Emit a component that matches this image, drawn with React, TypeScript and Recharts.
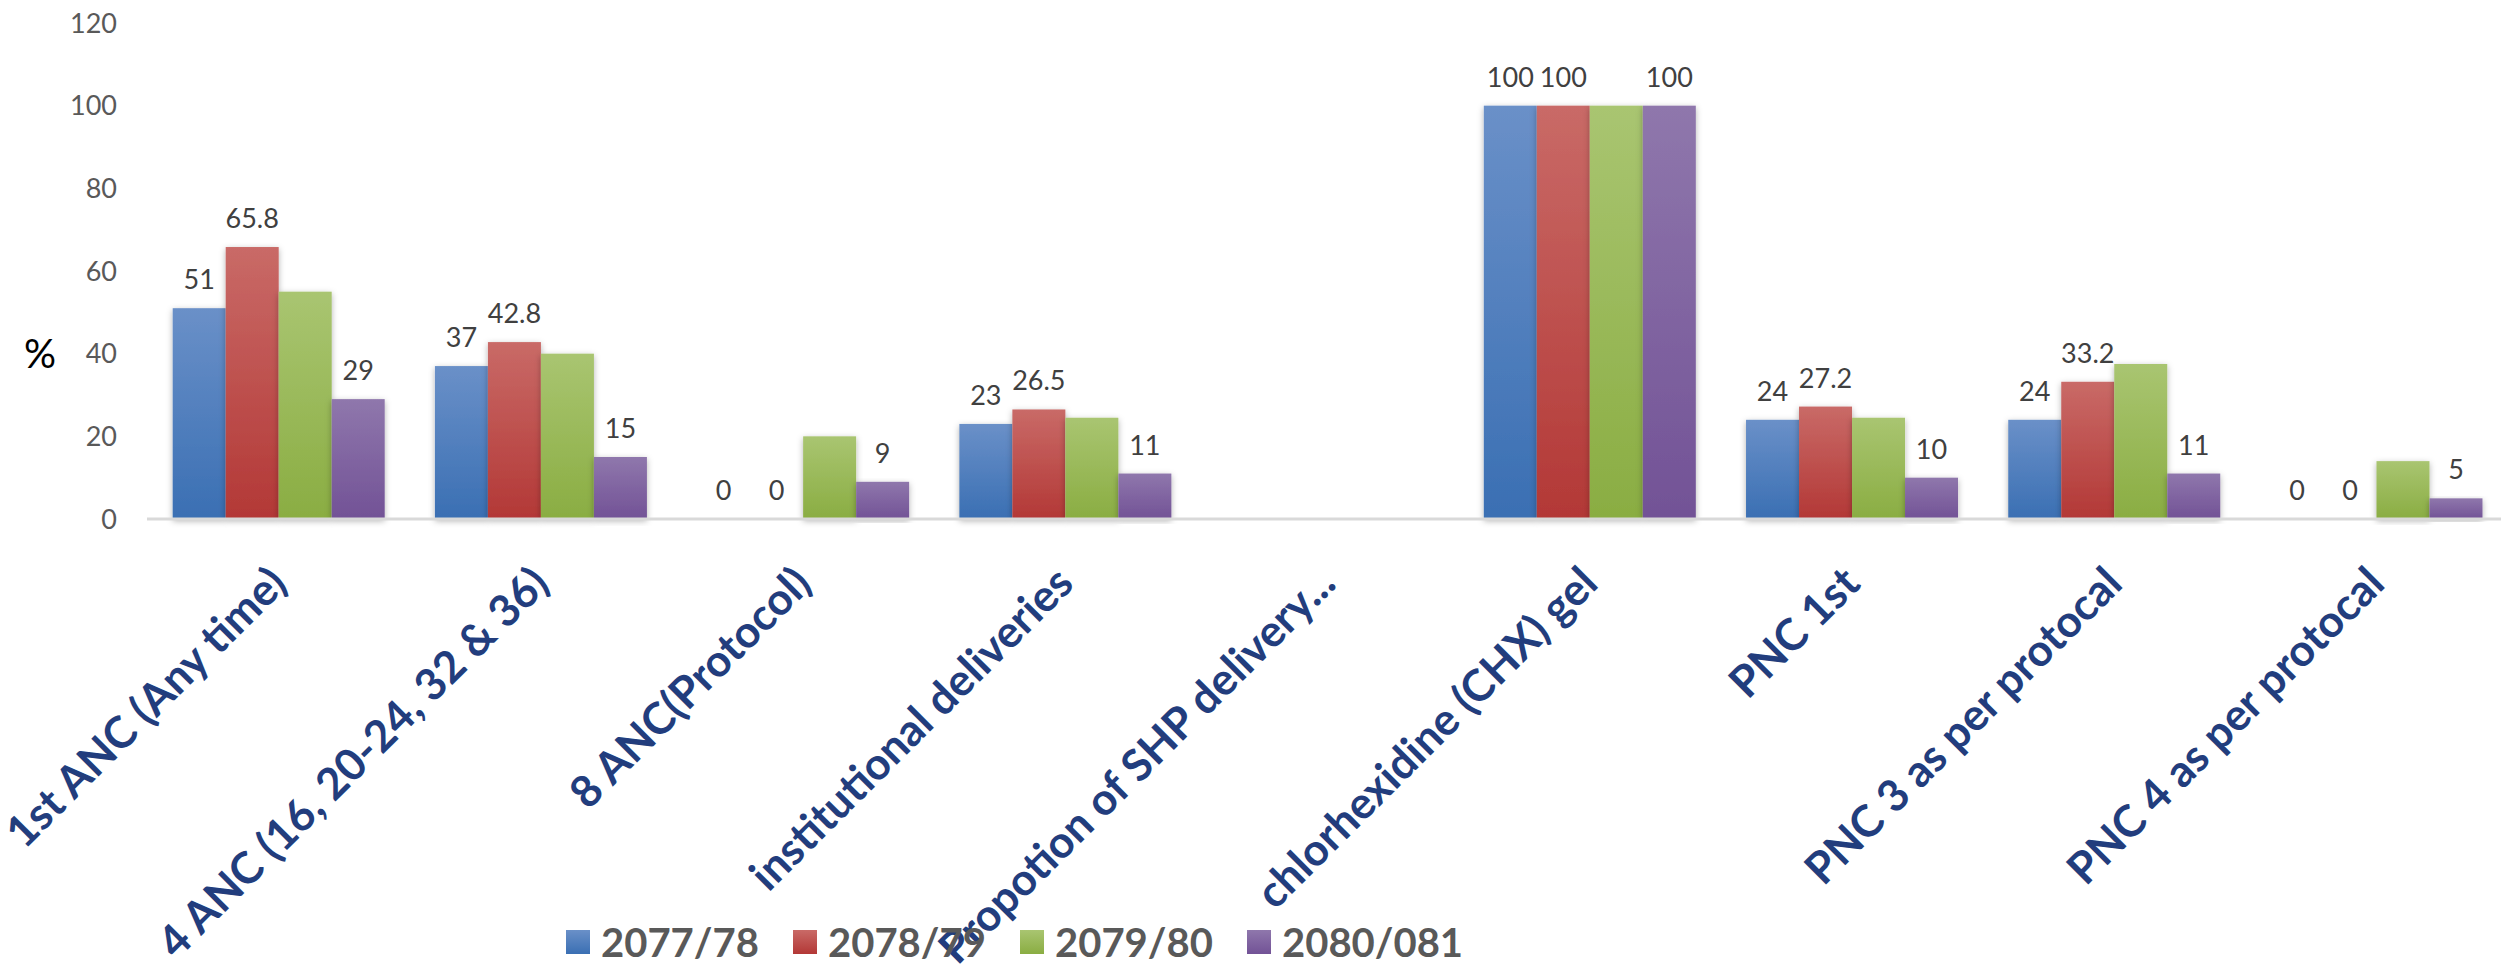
import { Bar, BarChart, LabelList, Legend, XAxis, YAxis } from "recharts";

const FONT = "Lato, 'Open Sans', sans-serif";

const categories = [
  "1st ANC (Any time)",
  "4 ANC (16, 20-24, 32 & 36)",
  "8 ANC(Protocol)",
  "institutional deliveries",
  "Propotion of SHP delivery...",
  "chlorhexidine (CHX) gel",
  "PNC 1st",
  "PNC 3 as per protocal",
  "PNC 4 as per protocal",
];

const y2077 = [51, 37, 0, 23, null, 100, 24, 24, 0];
const y2078 = [65.8, 42.8, 0, 26.5, null, 100, 27.2, 33.2, 0];
const y2079 = [55, 40, 20, 24.5, null, 100, 24.5, 37.5, 14];
const y2080 = [29, 15, 9, 11, null, 100, 10, 11, 5];

const yTicks = [0, 20, 40, 60, 80, 100, 120];

const series = [
  { key: "y2077", name: "2077/78", top: "#6a90c8", bottom: "#3a6fb3", labels: true },
  { key: "y2078", name: "2078/79", top: "#c96a67", bottom: "#b33836", labels: true },
  { key: "y2079", name: "2079/80", top: "#a9c571", bottom: "#8aad42", labels: false },
  { key: "y2080", name: "2080/081", top: "#8f77ac", bottom: "#725296", labels: true },
];

const data = categories.map((category, i) => ({
  category,
  y2077: y2077[i],
  y2078: y2078[i],
  y2079: y2079[i],
  y2080: y2080[i],
}));

function CategoryTick({ x, y, payload }: any) {
  return (
    <text
      x={x}
      y={y}
      dy="0.35em"
      textAnchor="end"
      transform={`rotate(-45, ${x}, ${y})`}
      fill="#223d7d"
      fontSize={44}
      fontWeight={700}
      fontFamily={FONT}
    >
      {payload.value}
    </text>
  );
}

function ShadowBar(props: any) {
  const { x, y, width, height, fill } = props;
  if (!height || height <= 0) return null;
  return <rect x={x} y={y} width={width} height={height} fill={fill} filter="url(#barShadow)" />;
}

function YearLegend() {
  return (
    <div style={{ display: "flex", alignItems: "center", fontFamily: FONT }}>
      {series.map((s) => (
        <div key={s.key} style={{ display: "flex", alignItems: "center", width: 227, flexShrink: 0 }}>
          <span
            style={{
              width: 24,
              height: 24,
              display: "inline-block",
              background: `linear-gradient(${s.top}, ${s.bottom})`,
            }}
          />
          <span
            style={{
              marginLeft: 11,
              fontSize: 40,
              lineHeight: 1,
              fontWeight: 700,
              color: "#595959",
              whiteSpace: "nowrap",
            }}
          >
            {s.name}
          </span>
        </div>
      ))}
    </div>
  );
}

export default function App() {
  return (
    <div
      style={{
        position: "absolute",
        left: 0,
        top: 0,
        width: 2501,
        height: 968,
        overflow: "hidden",
        background: "#fff",
      }}
    >
      <BarChart
        width={2510}
        height={968}
        data={data}
        margin={{ top: 23, right: 3, bottom: 0, left: 0 }}
        barCategoryGap="9.8%"
        barGap={0}
      >
        <defs>
          {series.map((s) => (
            <linearGradient key={s.key} id={`grad-${s.key}`} x1="0" y1="0" x2="0" y2="1">
              <stop offset="0%" stopColor={s.top} />
              <stop offset="100%" stopColor={s.bottom} />
            </linearGradient>
          ))}
          <filter id="barShadow" x="-20%" y="-10%" width="140%" height="120%">
            <feDropShadow dx="0" dy="2" stdDeviation="3" floodColor="#000" floodOpacity="0.3" />
          </filter>
        </defs>
        <XAxis
          dataKey="category"
          interval={0}
          height={449}
          tickSize={0}
          tickMargin={56}
          tickLine={false}
          axisLine={{ stroke: "#d9d9d9", strokeWidth: 3 }}
          tick={<CategoryTick />}
        />
        <YAxis
          domain={[0, 120]}
          ticks={yTicks}
          width={147}
          tickSize={0}
          tickMargin={30}
          axisLine={false}
          tickLine={false}
          tick={{ fontSize: 27, fill: "#595959", fontFamily: FONT }}
          label={{
            value: "%",
            position: "insideLeft",
            offset: 24,
            dy: 83,
            style: { fontSize: 40, fill: "#000", fontFamily: FONT },
          }}
        />
        <Legend
          layout="horizontal"
          verticalAlign="middle"
          align="center"
          content={<YearLegend />}
          wrapperStyle={{ left: 566, top: 922, width: "auto" }}
        />
        {series.map((s) => (
          <Bar
            key={s.key}
            dataKey={s.key}
            name={s.name}
            fill={`url(#grad-${s.key})`}
            shape={<ShadowBar />}
            isAnimationActive={false}
          >
            {s.labels && (
              <LabelList
                dataKey={s.key}
                position="top"
                offset={19}
                style={{ fontSize: 27, fill: "#404040", fontFamily: FONT }}
              />
            )}
          </Bar>
        ))}
      </BarChart>
    </div>
  );
}
